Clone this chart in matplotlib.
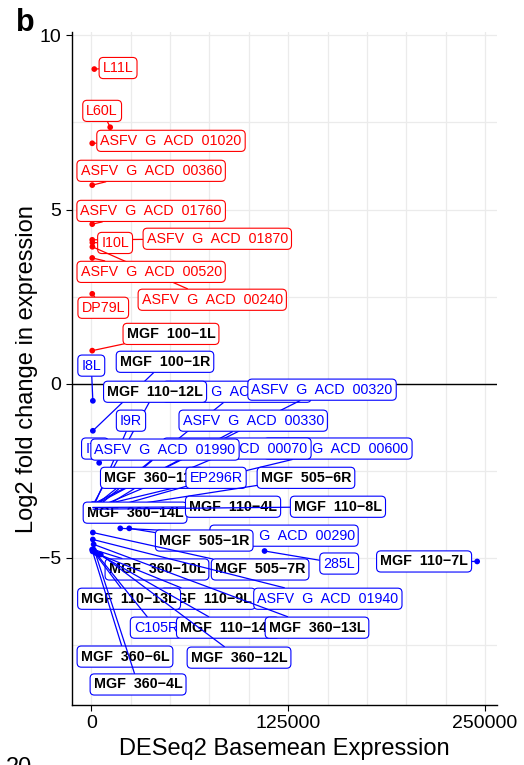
import matplotlib
matplotlib.use("Agg")
import matplotlib.pyplot as plt
import numpy as np

plt.rcParams['font.family'] = ['Liberation Sans', 'DejaVu Sans']

# ---------------------------------------------------------
# Data: gene, DESeq2 basemean, log2 fold change
# (listed in the order the labels are drawn)
# ---------------------------------------------------------
genes = [
    "L11L", "L60L", "ASFV  G  ACD  01020", "ASFV  G  ACD  00360",
    "ASFV  G  ACD  01760", "ASFV  G  ACD  01870", "I10L", "ASFV  G  ACD  00240",
    "ASFV  G  ACD  00520", "DP79L", "MGF  100−1L",
    "I8L", "MGF  100−1R", "ASFV  G  ACD  00010", "MGF  110−12L",
    "ASFV  G  ACD  00320", "I9R", "ASFV  G  ACD  00330", "ASFV  G  ACD  00600",
    "ASFV  G  ACD  00070", "I7L", "ASFV  G  ACD  01990", "MGF  360−11L", "EP296R",
    "MGF  505−6R", "MGF  360−14L", "MGF  110−4L", "MGF  110−8L",
    "ASFV  G  ACD  00290", "MGF  505−1R", "285L", "MGF  110−7L",
    "MGF  360−10L", "MGF  505−7R", "MGF  110−9L", "MGF  110−13L",
    "ASFV  G  ACD  01940", "C105R", "MGF  110−14L", "MGF  360−13L",
    "MGF  360−6L", "MGF  360−12L", "MGF  360−4L",
]
basemean = [
    1900, 12000, 600, 600,
    600, 600, 700, 700,
    600, 600, 600,
    1000, 1000, 900, 800,
    1100, 700, 1200, 1000,
    1300, 5000, 900, 800, 1400,
    1200, 700, 900, 1100,
    18400, 24100, 110000, 245000,
    1500, 1000, 5000, 500,
    1000, 2000, 3000, 1500,
    800, 6000, 2500,
]
log2fc = [
    9.03, 7.36, 6.90, 5.70,
    4.58, 4.13, 4.05, 3.93,
    3.61, 2.58, 0.95,
    -0.49, -1.35, -3.55, -3.50,
    -3.45, -3.60, -3.50, -3.55,
    -3.60, -2.27, -3.65, -3.75, -3.70,
    -3.65, -3.80, -3.55, -3.60,
    -4.15, -4.15, -4.80, -5.10,
    -4.76, -4.27, -4.90, -4.76,
    -4.47, -4.81, -4.85, -4.61,
    -4.81, -4.90, -4.85,
]

# label positions after repelling (layout only)
label_x = [
    17000, 6900, 50600, 38000,
    38000, 80000, 15100, 76800,
    38000, 7600, 50600,
    0, 46800, 92500, 40500,
    146500, 25200, 102800, 156600,
    92500, 2400, 46800, 38500, 79200,
    136300, 27800, 90000, 156600,
    122400, 71700, 157400, 211300,
    41700, 107200, 74100, 24000,
    150200, 41100, 86800, 143300,
    21400, 93800, 29700,
]
label_y = [
    9.06, 7.83, 6.97, 6.11,
    4.96, 4.16, 4.04, 2.41,
    3.21, 2.18, 1.43,
    0.52, 0.63, -0.23, -0.23,
    -0.17, -1.06, -1.06, -1.86,
    -1.86, -1.86, -1.89, -2.70, -2.70,
    -2.70, -3.70, -3.53, -3.53,
    -4.36, -4.50, -5.16, -5.10,
    -5.33, -5.33, -6.17, -6.17,
    -6.17, -7.00, -7.00, -7.00,
    -7.83, -7.86, -8.63,
]

x_ticks = [0, 125000, 250000]
y_ticks = [-5, 0, 5, 10]

# ---------------------------------------------------------
# Plot
# ---------------------------------------------------------
fig = plt.figure(figsize=(5.24, 7.65), dpi=100)
ax = fig.add_axes([0.1374, 0.0784, 0.8111, 0.8796])

ax.set_xlim(-12250, 257600)
ax.set_ylim(-9.22, 10.09)

# light grid
for gx in np.arange(0, 250001, 25000):
    ax.axvline(gx, color='#EBEBEB', lw=0.9, zorder=0)
for gy in np.arange(-7.5, 10.01, 2.5):
    ax.axhline(gy, color='#EBEBEB', lw=0.9, zorder=0)
ax.axhline(0, color='black', lw=1.0, zorder=1)

colors = ['red' if v > 0 else 'blue' for v in log2fc]
ax.scatter(basemean, log2fc, s=17, c=colors, zorder=2, linewidths=0)

# repelled labels with segments
for g, bx, fc, lx, ly, col in zip(genes, basemean, log2fc, label_x, label_y, colors):
    bold = g.startswith("MGF")
    ax.annotate(g, xy=(bx, fc), xytext=(lx, ly),
                ha='center', va='center', fontsize=10.3,
                fontweight='bold' if bold else 'normal',
                color='black' if bold else col,
                bbox=dict(boxstyle='round,pad=0.25,rounding_size=0.3',
                          fc='white', ec=col, lw=0.8),
                arrowprops=dict(arrowstyle='-', color=col, lw=0.9,
                                shrinkA=0, shrinkB=0),
                zorder=3)

ax.set_xticks(x_ticks)
ax.set_xticklabels([str(t) for t in x_ticks])
ax.set_yticks(y_ticks)
ax.set_yticklabels([str(t).replace('-', '−') for t in y_ticks])
ax.tick_params(direction='out', length=4, width=0.8, labelsize=14, colors='black')

for s in ['top', 'right']:
    ax.spines[s].set_visible(False)
for s in ['left', 'bottom']:
    ax.spines[s].set_linewidth(1.0)

ax.set_xlabel('DESeq2 Basemean Expression', fontsize=17, labelpad=4)
ax.set_ylabel('Log2 fold change in expression', fontsize=17, labelpad=1)

fig.text(0.03, 0.99, 'b', fontsize=22, fontweight='bold', va='top', ha='left')
fig.text(0.012, 0.0105, '20', fontsize=17, va='top', ha='left')

fig.savefig('out.png', dpi=100)
